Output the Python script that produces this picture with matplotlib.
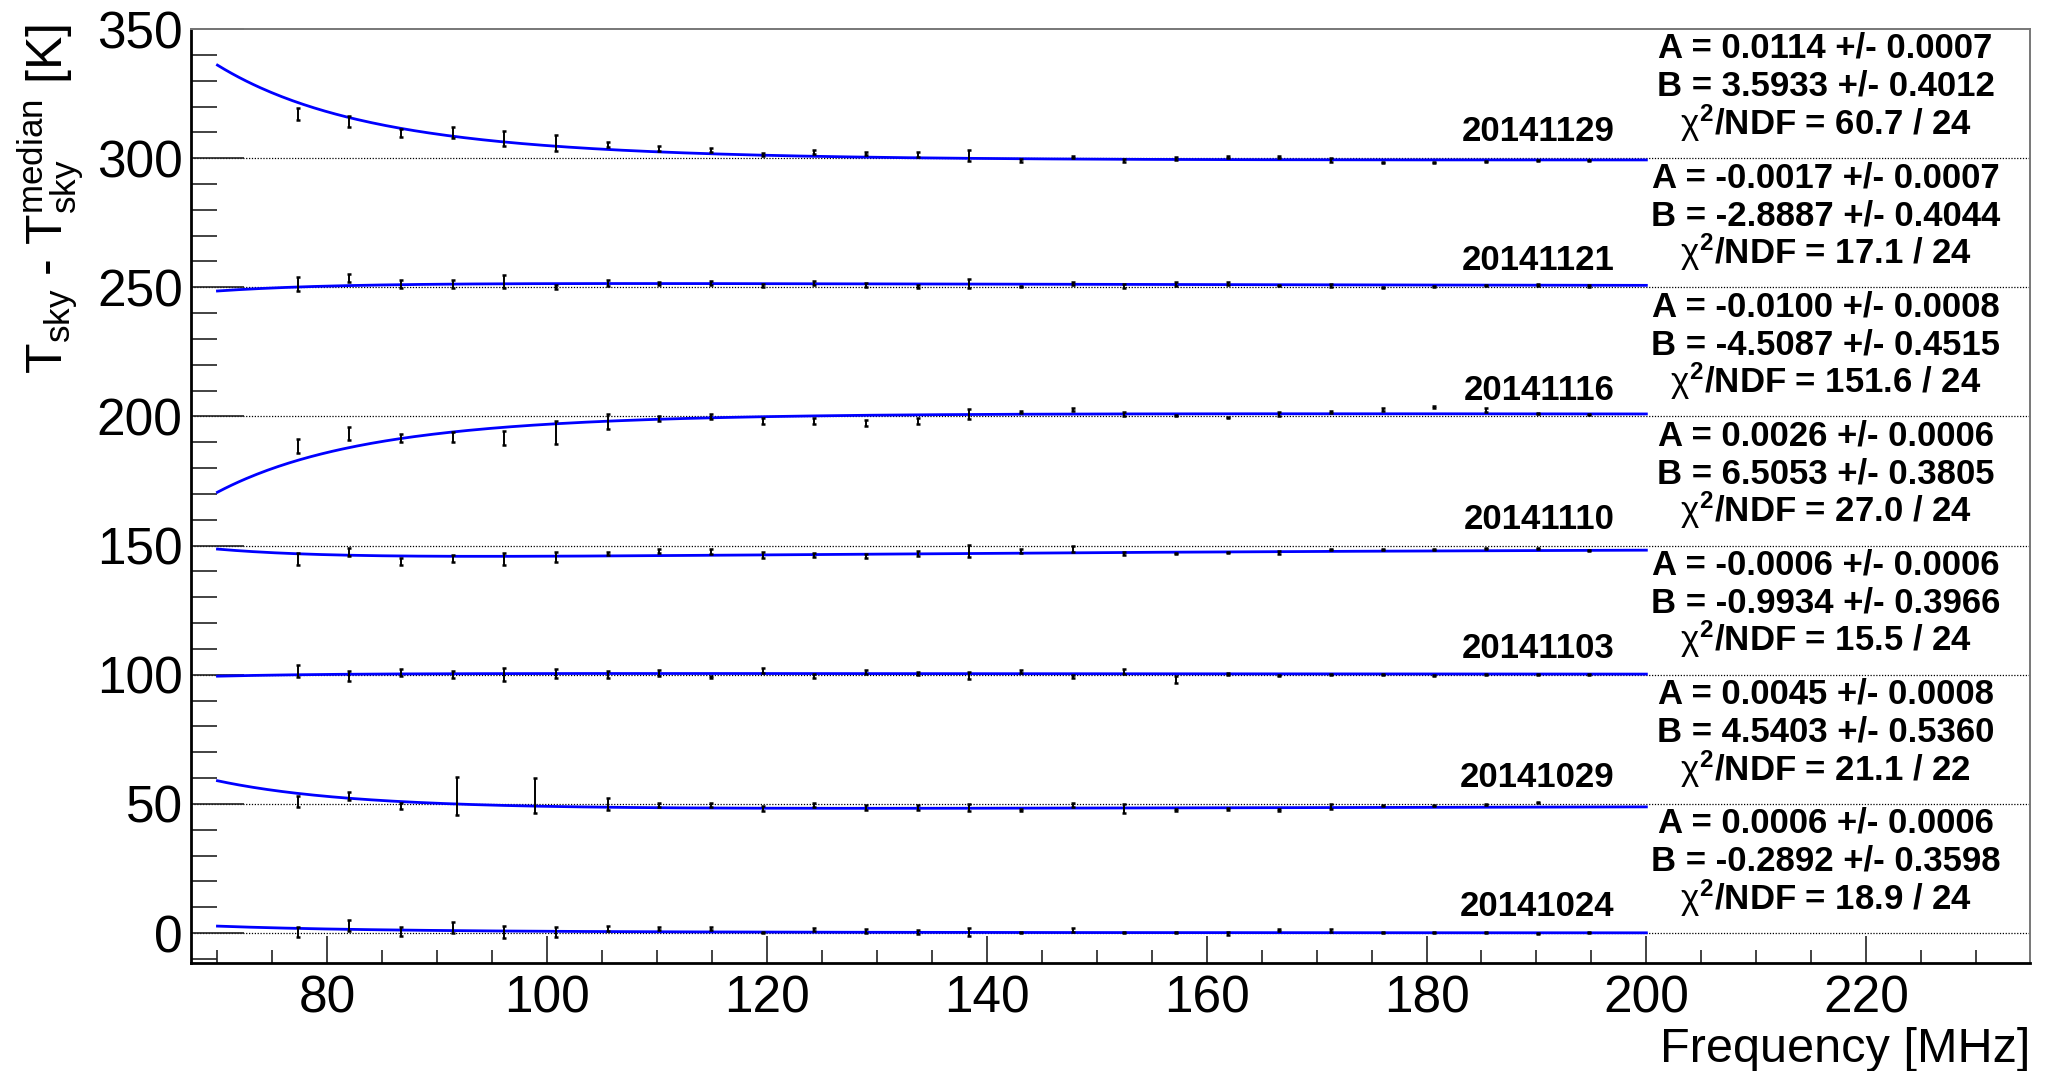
import matplotlib
matplotlib.use("Agg")
import matplotlib.pyplot as plt
import numpy as np

plt.rcParams["font.family"] = ["Liberation Sans", "DejaVu Sans"]
plt.rcParams["mathtext.fontset"] = "custom"
plt.rcParams["mathtext.rm"] = "Liberation Sans"
plt.rcParams["mathtext.it"] = "Liberation Sans"
plt.rcParams["mathtext.bf"] = "Liberation Sans:bold"

# observation nights, stacked with a 50 K offset each
DATES = ["20141024", "20141029", "20141103", "20141110", "20141116", "20141121", "20141129"]
OFFSETS = [0, 50, 100, 150, 200, 250, 300]

# fit results per night
FIT_A = [0.0006, 0.0045, -0.0006, 0.0026, -0.0100, -0.0017, 0.0114]
FIT_A_ERR = [0.0006, 0.0008, 0.0006, 0.0006, 0.0008, 0.0007, 0.0007]
FIT_B = [-0.2892, 4.5403, -0.9934, 6.5053, -4.5087, -2.8887, 3.5933]
FIT_B_ERR = [0.3598, 0.5360, 0.3966, 0.3805, 0.4515, 0.4044, 0.4012]
CHI2 = [18.9, 21.1, 15.5, 27.0, 151.6, 17.1, 60.7]
NDF = [24, 22, 24, 24, 24, 24, 24]

# frequency bins [MHz]
FREQ = [77.3, 82.0, 86.7, 91.4, 96.1, 100.8, 105.5, 110.2, 114.9, 119.6, 124.3, 129.0, 133.7,
        138.4, 143.1, 147.8, 152.5, 157.2, 161.9, 166.6, 171.3, 176.0, 180.7, 185.4, 190.1, 194.8]
FREQ_20141029 = [77.3, 82.0, 86.7, 91.8, 98.9, 105.5, 110.2, 114.9, 119.6, 124.3, 129.0, 133.7,
                 138.4, 143.1, 147.8, 152.5, 157.2, 161.9, 166.6, 171.3, 176.0, 180.7, 185.4, 190.1]

# T_sky - T_sky^median [K] (before offset) and its uncertainty
DT_20141024 = [0.4, 3.0, 0.6, 2.1, 0.5, 0.5, 1.9, 1.8, 1.8, 0.1, 1.5, 0.8, 0.4,
               0.4, 0.3, 1.3, 0.2, 0.2, -0.1, 1.2, 1.0, 0.1, 0.2, 0.1, 0.0, 0.1]
ERR_20141024 = [2.1, 2.1, 1.6, 2.1, 2.3, 1.9, 1.0, 0.6, 0.6, 0.2, 0.6, 0.6, 0.8,
                1.4, 0.2, 0.8, 0.2, 0.2, 0.7, 0.3, 0.5, 0.2, 0.2, 0.2, 0.2, 0.2]
DT_20141029 = [0.8, 3.0, -0.8, 3.2, 3.4, 0.1, -0.5, -0.4, -1.7, -0.4, -1.4, -1.4,
               -1.5, -2.4, -0.5, -1.8, -2.2, -1.9, -2.5, -1.0, -0.6, -0.5, -0.3, 0.6]
ERR_20141029 = [2.1, 1.6, 1.1, 7.4, 6.8, 2.3, 0.8, 0.6, 0.9, 0.6, 0.8, 0.8,
                1.4, 0.3, 0.8, 1.7, 0.4, 0.4, 0.4, 0.8, 0.2, 0.2, 0.2, 0.2]
DT_20141103 = [1.3, -0.5, 0.9, 0.1, 0.1, 0.4, 0.1, 0.8, -0.9, 1.5, -0.5, 1.2, 0.6,
               -0.3, 1.3, -0.6, 1.3, -1.7, 0.3, -0.2, 0.1, 0.2, -0.1, 0.2, 0.0, 0.1]
ERR_20141103 = [2.3, 1.8, 1.2, 1.5, 2.5, 1.7, 1.2, 1.1, 0.5, 1.0, 0.8, 0.8, 0.6,
                1.5, 0.6, 0.6, 1.0, 1.3, 0.2, 0.2, 0.2, 0.2, 0.2, 0.2, 0.2, 0.2]
DT_20141110 = [-5.2, -2.6, -6.2, -5.0, -5.2, -4.4, -3.0, -2.2, -2.3, -3.7, -3.5, -4.0, -3.0,
               -2.1, -2.2, -1.3, -3.0, -3.0, -2.6, -2.7, -1.5, -1.4, -1.4, -1.2, -1.0, -1.9]
ERR_20141110 = [2.3, 1.6, 1.3, 1.4, 2.3, 2.1, 0.6, 0.8, 0.9, 1.1, 0.8, 0.8, 0.9,
                2.4, 0.8, 1.0, 0.6, 0.3, 0.2, 0.5, 0.2, 0.2, 0.2, 0.2, 0.2, 0.2]
DT_20141116 = [-11.4, -6.6, -8.3, -7.9, -8.4, -6.3, -1.9, -0.8, -0.1, -1.7, -1.7, -2.5, -1.7,
               1.0, 1.9, 2.8, 0.9, 0.5, -0.3, 0.9, 1.8, 2.7, 3.6, 2.5, 1.0, 0.8]
ERR_20141116 = [2.8, 2.7, 1.6, 1.8, 2.8, 4.5, 2.8, 1.0, 0.9, 1.2, 1.2, 1.0, 1.2,
                2.0, 0.4, 0.5, 0.8, 0.2, 0.2, 0.8, 0.5, 0.5, 0.3, 0.9, 0.2, 0.2]
DT_20141121 = [1.3, 3.6, 1.3, 1.3, 2.2, 0.1, 1.7, 1.4, 1.8, 0.8, 1.8, 0.9, 0.3,
               1.5, 0.3, 1.5, 0.4, 1.3, 1.5, 0.6, 0.8, 0.0, 0.5, 0.7, 0.9, 0.6]
ERR_20141121 = [2.6, 1.6, 1.7, 1.7, 2.5, 0.9, 1.0, 0.6, 0.8, 0.5, 0.8, 0.9, 0.6,
                1.9, 0.2, 0.6, 0.8, 0.6, 0.6, 0.2, 0.6, 0.2, 0.2, 0.2, 0.3, 0.3]
DT_20141129 = [17.0, 14.3, 9.8, 9.8, 7.6, 5.8, 5.4, 3.7, 3.1, 1.5, 2.3, 1.9, 1.4,
               1.0, -0.9, 0.6, -0.9, -0.1, 0.5, 0.5, -0.6, -1.7, -1.7, -1.4, -1.0, -0.8]
ERR_20141129 = [2.3, 2.1, 1.5, 2.1, 2.8, 3.2, 0.9, 0.9, 0.8, 0.6, 0.8, 0.6, 0.8,
                2.0, 0.4, 0.4, 0.4, 0.5, 0.3, 0.3, 0.7, 0.2, 0.2, 0.2, 0.2, 0.2]

SERIES = [
    (FREQ, DT_20141024, ERR_20141024),
    (FREQ_20141029, DT_20141029, ERR_20141029),
    (FREQ, DT_20141103, ERR_20141103),
    (FREQ, DT_20141110, ERR_20141110),
    (FREQ, DT_20141116, ERR_20141116),
    (FREQ, DT_20141121, ERR_20141121),
    (FREQ, DT_20141129, ERR_20141129),
]

FIT_RANGE = (70.0, 200.0)


def fit_model(freq, a, b):
    """Deviation model: a scales the steep sky template, b the shallow one."""
    x = 70.0 / freq
    return a * 3690.0 * x ** 4.6 - b * 1.68 * x ** 1.7


fig = plt.figure(figsize=(20.48, 10.71), dpi=100)
ax = fig.add_axes([0.0933, 0.1008, 0.8979, 0.8721])

f_fit = np.linspace(FIT_RANGE[0], FIT_RANGE[1], 400)
for date, off, a, ae, b, be, chi2, ndf, (freq, dt, err) in zip(
        DATES, OFFSETS, FIT_A, FIT_A_ERR, FIT_B, FIT_B_ERR, CHI2, NDF, SERIES):
    ax.axhline(off, color="black", lw=0.9, ls=(0, (1, 1.3)), zorder=1)
    ax.plot(f_fit, off + fit_model(f_fit, a, b), color="#0000ff", lw=2.0, zorder=3)
    ax.errorbar(freq, np.array(dt) + off, yerr=err, fmt="none", ecolor="black",
                elinewidth=1.4, capsize=1.6, capthick=1.8, zorder=4)
    ax.text(197.1, off + 10.2, date, ha="right", va="center",
            fontsize=25, fontweight="bold")
    ax.text(216.3, off + 42.5, f"A = {a:.4f} +/- {ae:.4f}", ha="center", va="center",
            fontsize=25, fontweight="bold")
    ax.text(216.3, off + 27.8, f"B = {b:.4f} +/- {be:.4f}", ha="center", va="center",
            fontsize=25, fontweight="bold")
    ax.text(216.3, off + 13.6, r"$\chi^{\mathregular{2}}$" + f"/NDF = {chi2:.1f} / {ndf}",
            ha="center", va="center", fontsize=25, fontweight="bold")

ax.set_xlim(67.6, 234.9)
ax.set_ylim(-11.6, 349.6)

ax.set_xticks(np.arange(80, 221, 20))
ax.set_xticks(np.arange(70, 235, 5), minor=True)
ax.set_yticks(np.arange(0, 351, 50))
ax.set_yticks(np.arange(-10, 350, 10), minor=True)

ax.tick_params(axis="x", which="both", direction="in", top=False, labelsize=37,
               pad=8, width=1.2, color="#222222")
ax.tick_params(axis="x", which="major", length=19.7)
ax.tick_params(axis="x", which="minor", length=9.4)
ax.tick_params(axis="y", which="both", direction="in", right=False, labelsize=37,
               pad=6, width=1.2, color="#222222")
ax.tick_params(axis="y", which="major", length=38.5)
ax.tick_params(axis="y", which="minor", length=19.0)

for side in ("left", "bottom"):
    ax.spines[side].set_linewidth(2.0)
    ax.spines[side].set_color("black")
for side in ("top", "right"):
    ax.spines[side].set_linewidth(1.4)
    ax.spines[side].set_color("#777777")

fig.text(52 / 2048, 1 - 24 / 1071,
         r"$\mathregular{T_{sky}}$ - $\mathregular{T_{sky}^{median}}$ [K]",
         rotation=90, ha="center", va="top", fontsize=36)
fig.text(2030 / 2048, 1 - 1050 / 1071, "Frequency [MHz]", ha="right", va="center",
         fontsize=35)

fig.savefig("out.png", dpi=100)
